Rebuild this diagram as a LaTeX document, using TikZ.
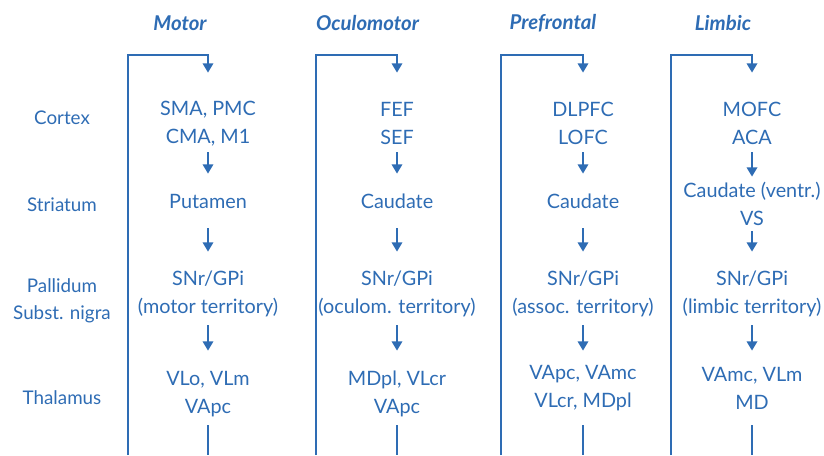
\documentclass[tikz,border=0pt]{standalone}
\usepackage{fontspec}
\setmainfont{Lato}
\usepackage{xcolor}
\usetikzlibrary{positioning,arrows.meta}
\definecolor{loopblue}{RGB}{46,108,180}

\begin{document}
\begin{tikzpicture}[x=0.5pt,y=-0.5pt,
    every node/.style={text=loopblue,inner sep=0pt},
    title/.style={font=\fontsize{10.2}{12}\selectfont\bfseries\itshape},
    rowlabel/.style={align=center,font=\fontsize{9.4}{13.5}\selectfont},
    cell/.style={align=center,font=\fontsize{9.9}{14}\selectfont},
    ctx/.style={cell,minimum height=28.5pt},
    str/.style={cell,minimum height=27pt},
    pal/.style={cell,minimum height=31.5pt},
    thl/.style={cell,minimum height=31pt},
    thlhi/.style={cell,minimum height=37pt},
    wire/.style={draw=loopblue,line width=1pt},
    flow/.style={wire,-{Triangle[width=5.2pt,length=4.6pt]}}]
  \useasboundingbox (0,0) rectangle (824,455);
  % row labels
  \node[rowlabel] (rc) at (62,118) {Cortex};
  \node[rowlabel] (rs) at (62,205) {Striatum};
  \node[rowlabel] (rp) at (62,301) {Pallidum\\Subst. nigra};
  \node[rowlabel] (rt) at (62,398) {Thalamus};
  % motor
  \node[title] (mh) at (180,23) {Motor};
  \node[ctx] (m1) at (208,123.5) {SMA, PMC\\CMA, M1};
  \node[str] (m2) at (208,201) {Putamen};
  \node[pal] (m3) at (208,293.5) {SNr/GPi\\(motor territory)};
  \node[thl] (m4) at (208,394) {VLo, VLm\\VApc};
  \coordinate (mb) at (128,455);
  \coordinate (mt) at (208,55);
  \coordinate (me) at (208,455);
  % oculomotor
  \node[title] (oh) at (367.5,23) {Oculomotor};
  \node[ctx] (o1) at (397,123.5) {FEF\\SEF};
  \node[str] (o2) at (397,201) {Caudate};
  \node[pal] (o3) at (397,293.5) {SNr/GPi\\(oculom. territory)};
  \node[thl] (o4) at (397,394) {MDpl, VLcr\\VApc};
  \coordinate (ob) at (315.5,455);
  \coordinate (ot) at (397,55);
  \coordinate (oe) at (397,455);
  % prefrontal
  \node[title] (ph) at (553,23) {Prefrontal};
  \node[ctx] (p1) at (583,123.5) {DLPFC\\LOFC};
  \node[str] (p2) at (583,201) {Caudate};
  \node[pal] (p3) at (583,293.5) {SNr/GPi\\(assoc. territory)};
  \node[thlhi] (p4) at (583,388) {VApc, VAmc\\VLcr, MDpl};
  \coordinate (pb) at (501,455);
  \coordinate (pt) at (583,55);
  \coordinate (pe) at (583,455);
  % limbic
  \node[title] (lh) at (723,23) {Limbic};
  \node[ctx] (l1) at (752,123.5) {MOFC\\ACA};
  \node[str] (l2) at (752,204) {Caudate (ventr.)\\VS};
  \node[pal] (l3) at (752,293.5) {SNr/GPi\\(limbic territory)};
  \node[thlhi] (l4) at (752,388) {VAmc, VLm\\MD};
  \coordinate (lb) at (671,455);
  \coordinate (lt) at (752,55);
  \coordinate (le) at (752,455);
  % loops
  \foreach \c in {m,o,p,l} {
    \draw[flow,shorten >=11pt] (\c b) |- (\c t) -- (\c 1);
    \draw[flow] (\c 1) -- (\c 2);
    \draw[flow,shorten >=5pt] (\c 2) -- (\c 3);
    \draw[wire] (\c 4) -- (\c e);
  }
  \foreach \c in {m,o}
    \draw[flow,shorten >=6pt] (\c 3) -- (\c 4);
  \foreach \c in {p,l}
    \draw[flow] (\c 3) -- (\c 4);
\end{tikzpicture}
\end{document}
